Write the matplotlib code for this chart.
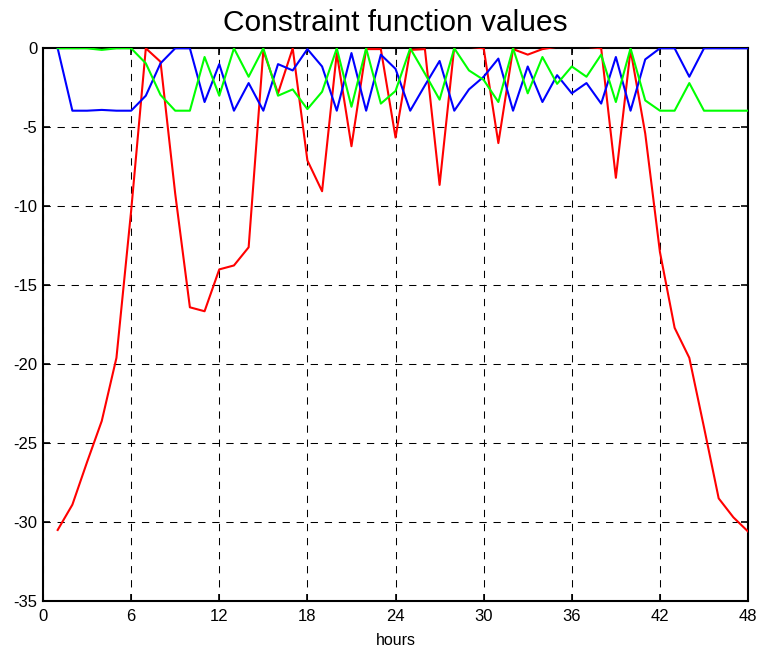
import numpy as np
import matplotlib
matplotlib.use("Agg")
import matplotlib.pyplot as plt

plt.rcParams['font.family'] = ['Liberation Sans', 'DejaVu Sans']
plt.rcParams['axes.unicode_minus'] = False

hours = np.arange(1, 49)

# constraint values, one per hour
g_red = [-30.5, -28.9, -26.2, -23.6, -19.6, -10.3, 0.0, -0.85, -9.2, -16.4,
         -16.65, -14.0, -13.75, -12.6, -0.15, -2.85, 0.0, -7.1, -9.05, -0.3,
         -6.2, -0.05, -0.05, -5.65, -0.1, -0.05, -8.65, 0.1, 0.1, 0.0,
         -6.0, -0.05, -0.4, -0.05, 0.1, 0.1, 0.1, 0.0, -8.2, -0.1,
         -5.4, -12.9, -17.7, -19.6, -24.0, -28.5, -29.7, -30.6]
g_blue = [0.0, -3.95, -3.95, -3.9, -3.95, -3.95, -3.0, -0.95, 0.0, 0.0,
          -3.4, -1.0, -3.95, -2.2, -3.95, -1.0, -1.4, -0.05, -1.15, -3.95,
          -0.3, -3.95, -0.4, -1.3, -3.95, -2.35, -0.8, -3.95, -2.6, -1.8,
          -0.65, -3.95, -1.15, -3.4, -1.7, -2.85, -2.2, -3.5, -0.55, -3.95,
          -0.7, 0.0, 0.0, -1.8, 0.0, 0.0, 0.0, 0.0]
g_green = [0.0, 0.0, 0.0, -0.1, 0.0, 0.0, -0.95, -2.95, -3.95, -3.95,
           -0.55, -3.0, 0.0, -1.8, 0.0, -3.0, -2.6, -3.85, -2.75, 0.0,
           -3.7, 0.0, -3.5, -2.7, 0.0, -1.6, -3.25, 0.0, -1.4, -2.0,
           -3.4, 0.0, -2.85, -0.55, -2.25, -1.15, -1.8, -0.4, -3.4, 0.0,
           -3.3, -3.95, -3.95, -2.2, -3.95, -3.95, -3.95, -3.95]

xticks = np.arange(0, 49, 6)
yticks = np.arange(-35, 1, 5)

fig = plt.figure(figsize=(7.61, 6.53), dpi=100)
ax = fig.add_axes([0.0565, 0.0796, 0.9265, 0.8464])

ax.plot(hours, g_red, color='#ff0000', lw=1.5, zorder=3)
ax.plot(hours, g_blue, color='#0000ff', lw=1.5, zorder=3)
ax.plot(hours, g_green, color='#00ff00', lw=1.5, zorder=3)

ax.set_xlim(0, 48)
ax.set_ylim(-35, 0)
ax.set_xticks(xticks)
ax.set_yticks(yticks)
ax.grid(True, color='black', lw=0.75, linestyle=(0, (7, 6.5)))

for s in ax.spines.values():
    s.set_linewidth(1.5)
ax.tick_params(direction='in', length=5, width=1.2, top=True, right=True,
               labelsize=12, pad=6)
ax.tick_params(axis='y', pad=4)

ax.set_title('Constraint function values', fontsize=21.5, pad=12.5)
ax.set_xlabel('hours', fontsize=11.5, labelpad=6)

fig.savefig('out.png', dpi=100)
